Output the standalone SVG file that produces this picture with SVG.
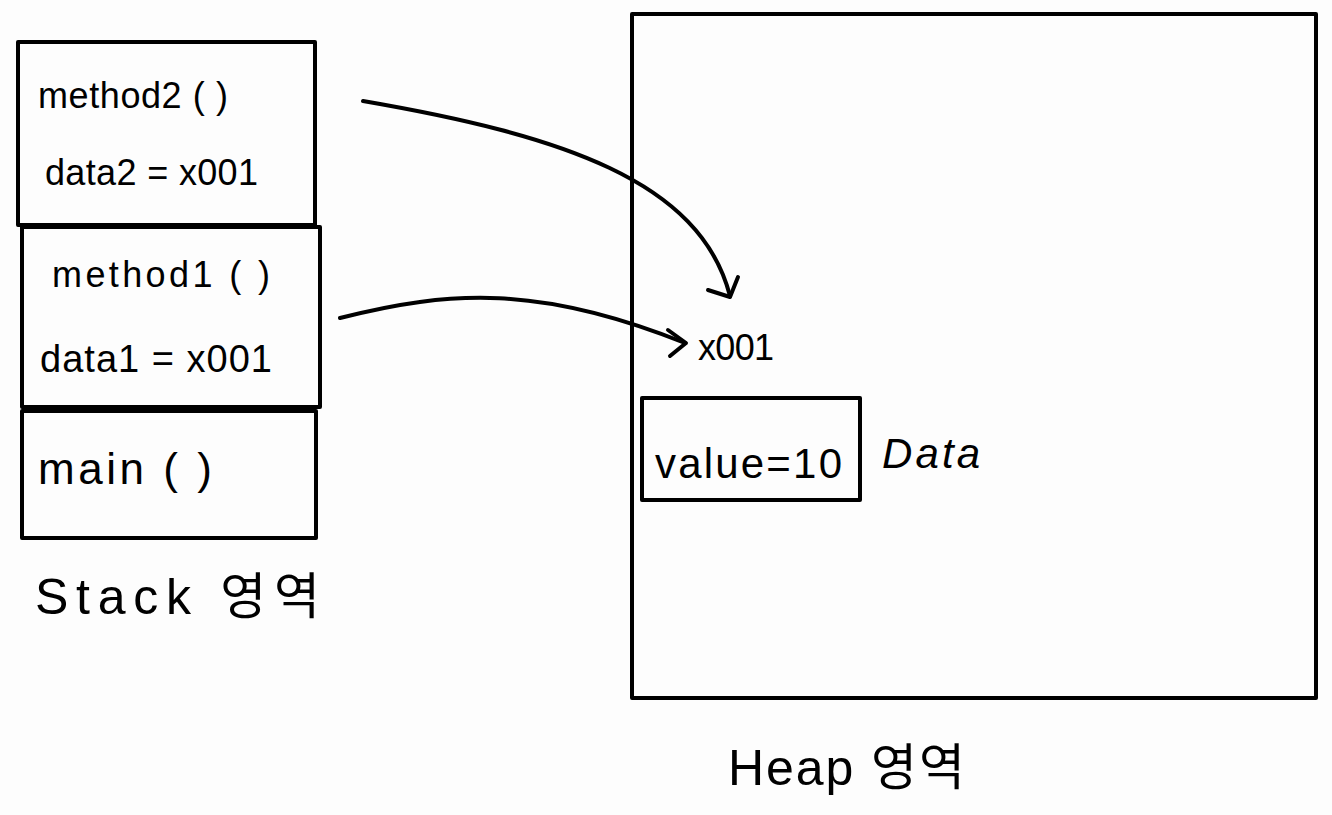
<svg xmlns="http://www.w3.org/2000/svg" width="1332" height="815" viewBox="0 0 1332 815">
<style>
.box{fill:none;stroke:#000;stroke-width:4;stroke-linejoin:round}
.t{font-family:"Liberation Sans","Noto Sans CJK KR",sans-serif;fill:#000}
.c{fill:none;stroke:#000;stroke-width:4;stroke-linecap:round;stroke-linejoin:round}
</style>
<rect width="1332" height="815" fill="#fdfdfd"/>
<g id="stack-method2">
<rect class="box" x="18" y="42" width="297" height="183"/>
<text class="t" x="38" y="108" font-size="36" textLength="190" lengthAdjust="spacing">method2 ( )</text>
<text class="t" x="45" y="185" font-size="36" textLength="213" lengthAdjust="spacing">data2 = x001</text>
</g>
<g id="stack-method1">
<rect class="box" x="22" y="227" width="298" height="180"/>
<text class="t" x="52" y="287" font-size="36" textLength="218" lengthAdjust="spacing">method1 ( )</text>
<text class="t" x="40" y="372" font-size="38" textLength="232" lengthAdjust="spacing">data1 = x001</text>
</g>
<g id="stack-main">
<rect class="box" x="22" y="411" width="294" height="127"/>
<text class="t" x="38" y="484" font-size="44" textLength="174" lengthAdjust="spacing">main ( )</text>
</g>
<g id="stack-label">
<text class="t" x="35" y="614" font-size="50" textLength="285" lengthAdjust="spacing">Stack 영역</text>
</g>
<g id="heap">
<rect class="box" x="632" y="14" width="684" height="684"/>
<text class="t" x="698" y="360" font-size="36" textLength="76" lengthAdjust="spacing">x001</text>
<text class="t" x="728" y="785" font-size="50" textLength="237" lengthAdjust="spacing">Heap 영역</text>
</g>
<g id="data-object">
<rect class="box" x="642" y="398" width="218" height="102"/>
<text class="t" x="655" y="478" font-size="42" textLength="187" lengthAdjust="spacing">value=10</text>
<text class="t" x="882" y="468" font-size="42" font-style="italic" textLength="98" lengthAdjust="spacing">Data</text>
</g>
<g id="connectors">
<path class="c" d="M363,101 C560,135 700,180 730,296"/>
<path class="c" d="M708,290 L730,297 L738,277"/>
<path class="c" d="M340,318 C450,290 540,285 685,343"/>
<path class="c" d="M668,330 L686,343 L670,356"/>
</g>
</svg>
